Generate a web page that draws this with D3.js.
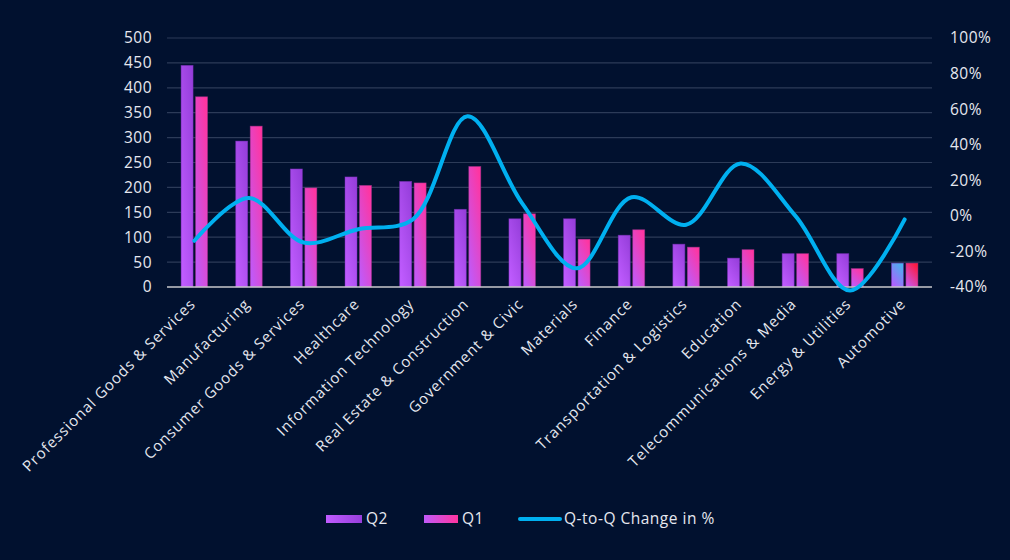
<!DOCTYPE html>
<html>
<head>
<meta charset="utf-8">
<script src="https://cdn.jsdelivr.net/npm/d3@7"></script>
<style>
  body { margin: 0; background: #01112f; }
  svg { display: block; font-family: "Open Sans", sans-serif; }
</style>
</head>
<body>
<script>
const categories = [
  "Professional Goods & Services", "Manufacturing", "Consumer Goods & Services",
  "Healthcare", "Information Technology", "Real Estate & Construction",
  "Government & Civic", "Materials", "Finance", "Transportation & Logistics",
  "Education", "Telecommunications & Media", "Energy & Utilities", "Automotive"
];
const q2 = [445, 293, 237, 221, 212, 156, 137, 137, 104, 86, 58, 67, 67, 48];
const q1 = [382, 323, 199, 204, 209, 242, 147, 96, 115, 80, 75, 67, 37, 48];
const change = [-14, 10, -15, -7.5, -2, 56, 7, -29.5, 10.5, -5, 29.5, 0, -42, -2];
const leftTicks = [0, 50, 100, 150, 200, 250, 300, 350, 400, 450, 500];
const rightTicks = [-40, -20, 0, 20, 40, 60, 80, 100];

const width = 1010, height = 560;
const margin = { top: 38, right: 78, bottom: 273, left: 167 };
const innerW = width - margin.left - margin.right;
const innerH = height - margin.top - margin.bottom;

const svg = d3.select("body").append("svg")
  .attr("width", width)
  .attr("height", height);

const defs = svg.append("defs");
function grad(id, top, bottom) {
  const g = defs.append("linearGradient").attr("id", id)
    .attr("x1", "80%").attr("y1", "0%").attr("x2", "20%").attr("y2", "100%");
  g.append("stop").attr("offset", "0%").attr("stop-color", top);
  g.append("stop").attr("offset", "100%").attr("stop-color", bottom);
}
grad("gQ2", "#973fdc", "#c05cff");
grad("gQ1", "#ff35a0", "#c05af8");
grad("gQ2alt", "#45b4ee", "#b45cff");
grad("gQ1alt", "#ff1838", "#c956ec");
const legQ2 = defs.append("linearGradient").attr("id", "lQ2");
legQ2.append("stop").attr("offset", "0%").attr("stop-color", "#c05cff");
legQ2.append("stop").attr("offset", "100%").attr("stop-color", "#973fdc");
const legQ1 = defs.append("linearGradient").attr("id", "lQ1");
legQ1.append("stop").attr("offset", "0%").attr("stop-color", "#c05af8");
legQ1.append("stop").attr("offset", "100%").attr("stop-color", "#ff35a0");

const g = svg.append("g").attr("transform", `translate(${margin.left},${margin.top})`);

const x = d3.scaleBand().domain(categories).range([0, innerW]);
const y = d3.scaleLinear().domain([0, 500]).range([innerH, 0]);
const y2 = d3.scaleLinear().domain([-40, 100]).range([innerH, 0]);

// gridlines
g.append("g").selectAll("line").data(leftTicks.slice(1)).join("line")
  .attr("x1", 0).attr("x2", innerW)
  .attr("y1", d => y(d)).attr("y2", d => y(d))
  .attr("stroke", "#2c3b58").attr("stroke-width", 1.2);

// left axis labels
g.append("g").selectAll("text").data(leftTicks).join("text")
  .attr("x", -15).attr("y", d => y(d)).attr("dy", "0.35em")
  .attr("text-anchor", "end").attr("fill", "#e6e8ef")
  .style("font-size", "15.5px").style("letter-spacing", "0.5px").text(d => d);

// right axis labels
g.append("g").selectAll("text").data(rightTicks).join("text")
  .attr("x", innerW + 18).attr("y", d => y2(d)).attr("dy", "0.35em")
  .attr("text-anchor", "start").attr("fill", "#e6e8ef")
  .style("font-size", "15.5px").style("letter-spacing", "0.5px").text(d => d + "%");

// bars
const bw = 12, gap = 2.5;
const last = categories.length - 1;
g.append("g").selectAll("rect").data(q2).join("rect")
  .attr("x", (d, i) => x(categories[i]) + x.bandwidth() / 2 - gap / 2 - bw)
  .attr("y", d => y(d)).attr("width", bw).attr("height", d => innerH - y(d))
  .attr("fill", (d, i) => i === last ? "url(#gQ2alt)" : "url(#gQ2)")
  .attr("stroke", "#7a2fb8").attr("stroke-opacity", 0.6).attr("stroke-width", 0.8);
g.append("g").selectAll("rect").data(q1).join("rect")
  .attr("x", (d, i) => x(categories[i]) + x.bandwidth() / 2 + gap / 2)
  .attr("y", d => y(d)).attr("width", bw).attr("height", d => innerH - y(d))
  .attr("fill", (d, i) => i === last ? "url(#gQ1alt)" : "url(#gQ1)")
  .attr("stroke", "#a0308a").attr("stroke-opacity", 0.6).attr("stroke-width", 0.8);

// baseline
g.append("line").attr("x1", 0).attr("x2", innerW)
  .attr("y1", innerH).attr("y2", innerH)
  .attr("stroke", "#c8c8cc").attr("stroke-width", 1.5);

// line
const line = d3.line()
  .x((d, i) => x(categories[i]) + x.bandwidth() / 2)
  .y(d => y2(d))
  .curve(d3.curveCatmullRom.alpha(0.5));
g.append("path").datum(change)
  .attr("d", line).attr("fill", "none")
  .attr("stroke", "#00b0f0").attr("stroke-width", 4).attr("stroke-linecap", "round");

// x labels
g.append("g").selectAll("text").data(categories).join("text")
  .attr("transform", d => `translate(${x(d) + x.bandwidth() / 2 + 2},${innerH + 18}) rotate(-45)`)
  .attr("text-anchor", "end").attr("fill", "#e6e8ef")
  .style("font-size", "15px").style("letter-spacing", "0.9px").text(d => d);

// legend
const legend = svg.append("g").attr("transform", "translate(0,519)");
const items = [
  { label: "Q2", x: 326, fill: "url(#lQ2)", w: 36 },
  { label: "Q1", x: 424, fill: "url(#lQ1)", w: 34 },
  { label: "Q-to-Q Change in %", x: 520, line: true, w: 40 }
];
items.forEach(it => {
  if (it.line) {
    legend.append("line").attr("x1", it.x).attr("x2", it.x + it.w)
      .attr("y1", 0).attr("y2", 0)
      .attr("stroke", "#00b0f0").attr("stroke-width", 4).attr("stroke-linecap", "round");
  } else {
    legend.append("rect").attr("x", it.x).attr("y", -4).attr("width", it.w).attr("height", 8)
      .attr("fill", it.fill);
  }
  legend.append("text").attr("x", it.x + it.w + 4).attr("y", 0).attr("dy", "0.35em")
    .attr("fill", "#e6e8ef").style("font-size", "15.5px").style("letter-spacing", "0.5px").text(it.label);
});
</script>
</body>
</html>
